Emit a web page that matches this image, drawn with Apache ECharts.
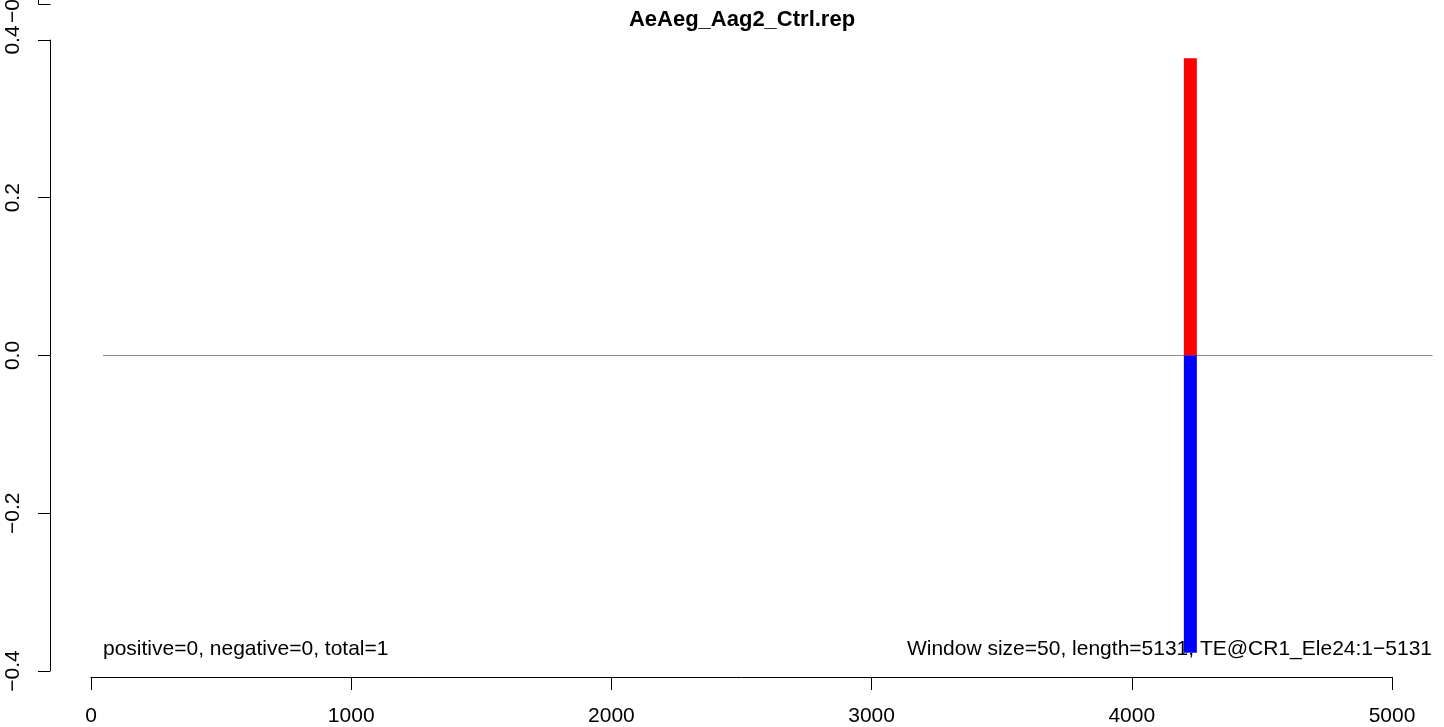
<!DOCTYPE html>
<html>
<head>
<meta charset="utf-8">
<script src="https://cdn.jsdelivr.net/npm/echarts@6/dist/echarts.min.js"></script>
<style>
html,body{margin:0;padding:0;background:#fff;}
#chart{width:1444px;height:727px;}
</style>
</head>
<body>
<div id="chart"></div>
<script>
// ---- data ----
var titleText = 'AeAeg_Aag2_Ctrl.rep';
var windowSize = 50;
var windowStarts = [4200];
var positiveValues = [0.377];
var negativeValues = [-0.377];
var zeroLineX = [46, 5156];
var xTicks = [0, 1000, 2000, 3000, 4000, 5000];
var yTicks = [-0.4, -0.2, 0.0, 0.2, 0.4];
var leftNote = 'positive=0, negative=0, total=1';
var rightNote = 'Window size=50, length=5131, TE@CR1_Ele24:1\u22125131';

var FONT = '"Liberation Sans", Arial, Helvetica, sans-serif';

var barData = [];
for (var i = 0; i < windowStarts.length; i++) {
  barData.push([windowStarts[i], windowStarts[i] + windowSize, positiveValues[i], '#ff0000']);
  barData.push([windowStarts[i], windowStarts[i] + windowSize, negativeValues[i], '#0000ff']);
}

var chart = echarts.init(document.getElementById('chart'), null, {renderer: 'canvas'});
var option = {
  backgroundColor: '#ffffff',
  animation: false,
  grid: {left: 91, right: 52, top: 40, bottom: 54, containLabel: false},
  xAxis: {
    type: 'value', min: xTicks[0], max: xTicks[xTicks.length - 1], interval: 1000,
    offset: 6,
    axisLine: {show: true, onZero: false, lineStyle: {color: '#000', width: 1}},
    axisTick: {show: true, length: 13, inside: false, lineStyle: {color: '#000', width: 1}},
    axisLabel: {show: true, margin: 29, color: '#000', fontSize: 21, fontFamily: FONT,
      formatter: function (v) { return String(v); }},
    splitLine: {show: false}
  },
  yAxis: {
    type: 'value', min: yTicks[0], max: yTicks[yTicks.length - 1], interval: 0.2,
    offset: 41,
    axisLine: {show: true, onZero: false, lineStyle: {color: '#000', width: 1}},
    axisTick: {show: true, length: 12, inside: false, lineStyle: {color: '#000', width: 1}},
    axisLabel: {show: true, rotate: 90, margin: 26, color: '#000', fontSize: 21, fontFamily: FONT,
      formatter: function (v) { return v.toFixed(1).replace('-', '\u2212'); }},
    splitLine: {show: false}
  },
  series: [
    {
      type: 'custom', data: [[zeroLineX[0], zeroLineX[1]]], clip: false, z: 1, silent: true,
      renderItem: function (params, api) {
        var a = api.coord([api.value(0), 0]);
        var b = api.coord([api.value(1), 0]);
        return {
          type: 'line',
          shape: {x1: a[0], y1: a[1], x2: b[0], y2: b[1]},
          style: {stroke: '#8c8c8c', lineWidth: 1.2}
        };
      }
    },
    {
      type: 'custom', data: barData, clip: false, z: 2,
      renderItem: function (params, api) {
        var p0 = api.coord([api.value(0), 0]);
        var p1 = api.coord([api.value(1), api.value(2)]);
        var color = barData[params.dataIndex][3];
        return {
          type: 'rect',
          shape: {x: p0[0], y: Math.min(p0[1], p1[1]), width: p1[0] - p0[0], height: Math.abs(p1[1] - p0[1])},
          style: {fill: color}
        };
      }
    }
  ],
  graphic: [
    {type: 'text', x: 742, y: 20, style: {text: titleText, fill: '#000', font: 'bold 22px ' + FONT, align: 'center', verticalAlign: 'middle'}},
    {type: 'text', x: 103, y: 649, style: {text: leftNote, fill: '#000', font: '21px ' + FONT, align: 'left', verticalAlign: 'middle'}},
    {type: 'text', x: 1432, y: 649, style: {text: rightNote, fill: '#000', font: '21px ' + FONT, align: 'right', verticalAlign: 'middle'}},
    {type: 'text', x: 13, y: 11, rotation: Math.PI / 2, style: {text: '\u22120', fill: '#000', font: '21px ' + FONT, align: 'center', verticalAlign: 'middle'}},
    {type: 'polyline', shape: {points: [[38.5, 0], [38.5, 4.5], [50.5, 4.5]]}, style: {stroke: '#000', lineWidth: 1, fill: null}}
  ]
};
chart.setOption(option);
</script>
</body>
</html>
